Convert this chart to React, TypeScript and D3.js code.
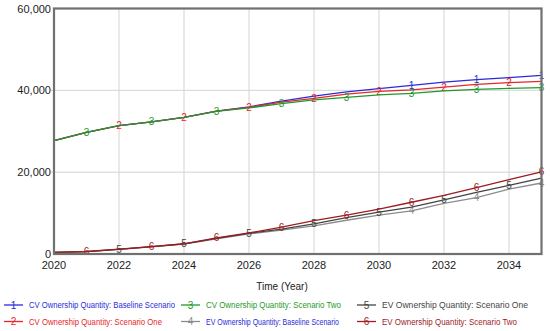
import React, { useRef, useEffect } from 'react';
import * as d3 from 'd3';

const years = [2020, 2021, 2022, 2023, 2024, 2025, 2026, 2027, 2028, 2029, 2030, 2031, 2032, 2033, 2034, 2035];

const cvBaseline = [27700, 29750, 31400, 32300, 33400, 34900, 35950, 37350, 38600, 39600, 40400, 41200, 42000, 42600, 43100, 43650];
const cvScenarioOne = [27700, 29750, 31400, 32300, 33400, 34900, 35850, 37100, 38050, 39050, 39750, 40100, 40800, 41450, 41900, 42200];
const cvScenarioTwo = [27700, 29750, 31400, 32300, 33400, 34850, 35700, 36750, 37650, 38300, 38900, 39250, 39850, 40250, 40500, 40650];
const evBaseline = [400, 600, 1150, 1750, 2400, 3700, 4900, 5850, 6850, 8250, 9500, 10550, 12400, 13800, 15850, 17350];
const evScenarioOne = [400, 590, 1150, 1780, 2450, 3800, 5050, 6100, 7350, 8900, 10250, 11450, 13250, 15050, 16750, 18550];
const evScenarioTwo = [400, 610, 1180, 1820, 2500, 3950, 5150, 6550, 8150, 9500, 10950, 12650, 14300, 16250, 18150, 20100];

const seriesNames = [
  'CV Ownership Quantity: Baseline Scenario',
  'CV Ownership Quantity: Scenario One',
  'CV Ownership Quantity: Scenario Two',
  'EV Ownership Quantity: Baseline Scenario',
  'EV Ownership Quantity: Scenario One',
  'EV Ownership Quantity: Scenario Two',
];
const seriesValues = [cvBaseline, cvScenarioOne, cvScenarioTwo, evBaseline, evScenarioOne, evScenarioTwo];
const seriesColors = ['#2b2bd9', '#e8262b', '#1f9a2a', '#8c8c8c', '#444444', '#9e1b1f'];
const legendTextColors = ['#2b2bd9', '#e8262b', '#1f9a2a', '#2b2bd9', '#444444', '#9e1b1f'];
// years where each series shows its number marker
const markerYears = [
  [2031, 2033, 2035],
  [2022, 2024, 2026, 2028, 2030, 2032, 2034],
  [2021, 2023, 2025, 2027, 2029, 2031, 2033, 2035],
  [2031, 2033, 2035],
  [2022, 2024, 2026, 2028, 2030, 2032, 2034],
  [2021, 2023, 2025, 2027, 2029, 2031, 2033, 2035],
];

const xTicks = [2020, 2022, 2024, 2026, 2028, 2030, 2032, 2034];
const yTicks = [0, 20000, 40000, 60000];

const W = 550;
const H = 331;
const margin = { left: 54, right: 8.5, top: 8.5, bottom: 77 };

const App = () => {
  const chartRef = useRef<SVGSVGElement>(null);

  useEffect(() => {
    const svg = d3.select(chartRef.current);
    svg.selectAll('*').remove();

    const x = d3.scaleLinear().domain([2020, 2035]).range([margin.left, W - margin.right]);
    const y = d3.scaleLinear().domain([0, 60000]).range([H - margin.bottom, margin.top]);
    const font = '"Liberation Sans", Arial, sans-serif';

    // gridlines
    const grid = svg.append('g').attr('stroke', '#d4d4d4').attr('stroke-width', 1);
    xTicks.slice(1).forEach(t => {
      grid.append('line')
        .attr('x1', x(t)).attr('x2', x(t))
        .attr('y1', y(60000)).attr('y2', y(0));
    });
    yTicks.slice(1, 3).forEach(t => {
      grid.append('line')
        .attr('x1', x(2020) - 4).attr('x2', x(2035))
        .attr('y1', y(t)).attr('y2', y(t));
    });

    // series lines + digit markers
    const line = d3.line<number>()
      .x((_, i) => x(years[i]))
      .y(d => y(d));

    seriesValues.forEach((vals, s) => {
      const g = svg.append('g');
      g.append('path')
        .datum(vals)
        .attr('d', line)
        .attr('fill', 'none')
        .attr('stroke', seriesColors[s])
        .attr('stroke-width', 1.3);
      g.selectAll('text')
        .data(vals.map((v, i) => ({ v, yr: years[i] })).filter(d => markerYears[s].includes(d.yr)))
        .enter()
        .append('text')
        .attr('x', d => x(d.yr))
        .attr('y', d => y(d.v) + 3.5)
        .attr('text-anchor', 'middle')
        .attr('font-family', font)
        .attr('font-size', 10)
        .attr('fill', seriesColors[s])
        .text(s + 1);
    });

    // frame
    svg.append('rect')
      .attr('x', x(2020)).attr('y', y(60000))
      .attr('width', x(2035) - x(2020)).attr('height', y(0) - y(60000))
      .attr('fill', 'none')
      .attr('stroke', '#707070')
      .attr('stroke-width', 2.2);

    // y tick labels
    svg.append('g').selectAll('text')
      .data(yTicks)
      .enter()
      .append('text')
      .attr('x', x(2020) - 3)
      .attr('y', d => y(d) + 4)
      .attr('text-anchor', 'end')
      .attr('font-family', font)
      .attr('font-size', 11)
      .attr('fill', '#222')
      .text(d => d3.format(',')(d));

    // x tick labels
    svg.append('g').selectAll('text')
      .data(xTicks)
      .enter()
      .append('text')
      .attr('x', d => x(d))
      .attr('y', y(0) + 15)
      .attr('text-anchor', 'middle')
      .attr('font-family', font)
      .attr('font-size', 11)
      .attr('fill', '#222')
      .text(d => d);

    svg.append('text')
      .attr('x', 282)
      .attr('y', 290)
      .attr('text-anchor', 'middle')
      .attr('font-family', font)
      .attr('font-size', 10)
      .attr('fill', '#222')
      .text('Time (Year)');

    // legend: 3 columns x 2 rows
    const colX = [4, 181, 357];
    const rowY = [305, 321.5];
    const legendOrder = [0, 2, 4, 1, 3, 5];
    const textWidths = [146, 133, 135, 133, 146, 135];
    legendOrder.forEach((s, k) => {
      const lx = colX[k % 3];
      const ly = rowY[Math.floor(k / 3)];
      const g = svg.append('g');
      g.append('line')
        .attr('x1', lx).attr('x2', lx + 19)
        .attr('y1', ly).attr('y2', ly)
        .attr('stroke', seriesColors[s])
        .attr('stroke-width', 1.3);
      g.append('text')
        .attr('x', lx + 9.5).attr('y', ly + 3.5)
        .attr('text-anchor', 'middle')
        .attr('font-family', font)
        .attr('font-size', 10)
        .attr('fill', seriesColors[s])
        .text(s + 1);
      g.append('text')
        .attr('x', lx + 25).attr('y', ly + 3)
        .attr('font-family', font)
        .attr('font-size', 8.4)
        .attr('textLength', textWidths[s])
        .attr('lengthAdjust', 'spacingAndGlyphs')
        .attr('fill', legendTextColors[s])
        .text(seriesNames[s]);
    });
  }, []);

  return (
    <svg
      ref={chartRef}
      width={W}
      height={H}
      style={{ position: 'absolute', left: 0, top: 0, background: '#fff' }}
    />
  );
};

export default App;
